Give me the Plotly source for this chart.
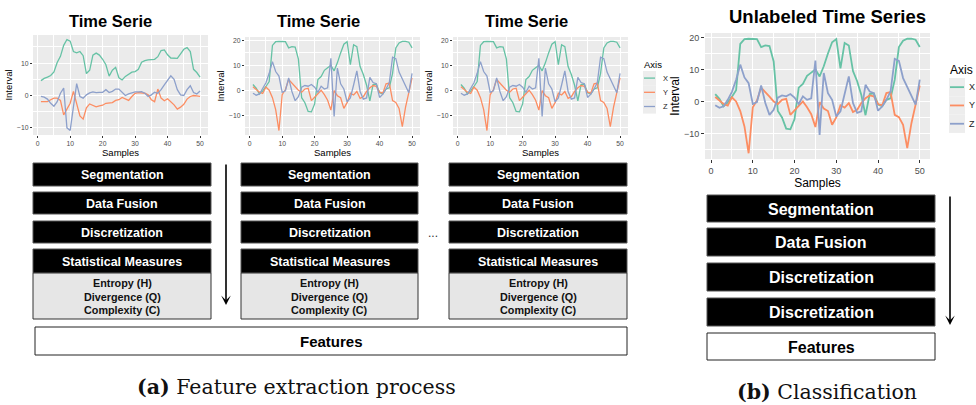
import plotly.graph_objects as go

# ---------------------------------------------------------------- data
samples = list(range(1, 51))

# training time series (first panel)
train_x = [4.6, 5.3, 5.7, 6.2, 7.3, 10.2, 12.1, 15.5, 17.3, 16.8,
           13.6, 13.2, 13.6, 12.3, 6.8, 7.8, 12.5, 13.1, 12.5, 11.2,
           9.5, 6.0, 7.8, 8.7, 5.5, 4.8, 5.9, 6.6, 7.2, 7.4,
           8.1, 10.3, 10.8, 11.0, 11.2, 11.2, 12.0, 13.9, 14.1, 12.6,
           11.6, 11.5, 11.5, 12.9, 14.3, 14.8, 13.6, 8.1, 7.1, 5.7]
train_y = [-1.9, -1.9, -1.9, -1.3, -0.8, -0.8, -1.5, -6.0, -4.0, -2.4,
           1.3, -2.4, -6.3, -7.3, -3.8, -2.6, -3.0, -3.5, -3.2, -3.0,
           -2.4, -2.2, -2.2, -1.5, -1.3, -0.6, -1.1, -1.5, -0.3, 0.7,
           0.9, 0.7, 0.7, 0.2, -1.3, -1.9, 2.0, -0.8, -1.6, -1.0,
           -1.9, -2.9, -4.2, -3.6, -2.7, -1.1, -0.3, 0.0, -0.1, -0.3]
train_z = [-0.3, -0.5, -1.1, -2.4, -3.3, -1.9, 0.7, 2.3, -10.0, -10.8,
           -3.5, 3.7, -0.3, -0.8, 0.2, 0.8, 1.1, 0.9, 1.0, 1.0,
           1.8, 0.9, 1.3, 2.0, 2.0, 1.0, 0.0, 0.5, 0.9, 1.1,
           1.1, 1.2, 0.7, -0.3, 0.2, 1.0, 0.7, 1.8, 3.3, 4.8,
           6.1, 5.0, 1.8, 0.2, 0.0, 1.8, 3.0, 0.9, 0.5, 1.4]

# second series (shown in the other three panels)
test_x = [2.3, 0.8, -1.5, -0.3, 1.5, 3.5, 18.0, 19.5, 19.6, 19.6,
          19.5, 17.0, 17.5, 17.3, 12.5, -3.0, -5.0, -8.5, -8.7, -5.5,
          4.3, 5.5, 8.0, 9.0, 10.0, 7.8, 11.0, 15.0, 18.5, 19.5,
          10.3, 18.3, 17.5, 9.5, 6.3, 2.0, -4.3, 2.3, 2.5, -1.0,
          -1.5, 0.5, 1.0, 6.8, 17.0, 19.0, 19.6, 19.6, 19.3, 17.0]
test_y = [1.4, 0.3, -0.8, -1.3, 1.3, 0.0, -3.0, -7.8, -16.2, -1.8,
          0.3, 4.3, 3.0, 1.5, 0.0, -0.8, 0.5, 0.8, -4.2, -2.8,
          -1.3, 0.0, -1.8, -4.0, -8.0, -0.2, -2.2, -3.0, -7.3, -5.0,
          -1.2, -1.9, -0.5, -3.3, -2.6, -0.5, 1.0, 1.9, 1.6, -0.8,
          -1.2, 2.6, 2.9, -4.2, -4.9, -7.3, -14.6, -6.8, -1.0, 5.0]
test_z = [-1.2, -2.0, -1.5, 0.5, 3.0, 6.8, 11.5, 7.5, 5.7, -0.8,
          -0.2, 5.0, -0.5, -4.2, -2.6, 1.2, 1.9, 1.6, 2.3, 1.2,
          -0.8, 1.6, 0.5, 1.0, 12.8, -10.5, 8.9, 2.6, 0.5, -4.7,
          -3.1, 2.1, 7.8, -0.5, -3.6, -3.1, 5.2, 3.1, 2.6, -2.9,
          -1.6, 0.5, 3.1, 13.3, 12.7, 7.3, 4.7, 2.1, -1.0, 6.8]

axis_names = ["X", "Y", "Z"]
axis_colors = ["#66C2A5", "#FC8D62", "#8DA0CB"]

x_ticks = [0, 10, 20, 30, 40, 50]
y_ticks = [-10, 0, 10, 20]

stages_a = ["Segmentation", "Data Fusion", "Discretization", "Statistical Measures"]
measures = ["Entropy (H)", "Divergence (Q)", "Complexity (C)"]
stages_b = ["Segmentation", "Data Fusion", "Discretization", "Discretization"]

# ---------------------------------------------------------------- layout helpers
W, H = 976, 405
SANS = "Liberation Sans, Arial, sans-serif"
SERIF = "DejaVu Serif, Liberation Serif, serif"


def px(x):
    return x / W


def py(y):
    return 1 - y / H


def expand(values, frac=0.05):
    lo, hi = min(values), max(values)
    pad = (hi - lo) * frac
    return [lo - pad, hi + pad]


fig = go.Figure()

# panels: (x-left, x-right, y-top, y-bottom) in pixels
panels = [
    dict(box=(33, 208, 35, 135), series=(train_x, train_y, train_z), lw=1.3, tick=6.8, lab=9.5, big=False),
    dict(box=(245, 420, 37, 135), series=(test_x, test_y, test_z), lw=1.3, tick=6.8, lab=9.5, big=False),
    dict(box=(453, 628, 37, 135), series=(test_x, test_y, test_z), lw=1.3, tick=6.8, lab=9.5, big=False),
    dict(box=(705, 930, 33, 159), series=(test_x, test_y, test_z), lw=1.8, tick=9, lab=12, big=True),
]

layout_axes = {}
for i, p in enumerate(panels, start=1):
    x0, x1, y0, y1 = p["box"]
    xs = "x" if i == 1 else f"x{i}"
    ys = "y" if i == 1 else f"y{i}"
    all_vals = [v for s in p["series"] for v in s]
    for name, vals, col in zip(axis_names, p["series"], axis_colors):
        fig.add_trace(go.Scatter(
            x=samples, y=vals, mode="lines", name=name,
            line=dict(color=col, width=p["lw"]),
            xaxis=xs, yaxis=ys, showlegend=False, hoverinfo="skip",
        ))
    common = dict(
        showgrid=True, gridcolor="white", gridwidth=1.1 if p["big"] else 0.9,
        zeroline=False, showline=False,
        ticks="outside", ticklen=3 if p["big"] else 2, tickwidth=1, tickcolor="#333333",
        tickfont=dict(family=SANS, size=p["tick"], color="#4D4D4D"),
        minor=dict(dtick=5, tick0=0, showgrid=True, gridcolor="white", gridwidth=0.5),
        fixedrange=True,
    )
    layout_axes["xaxis" if i == 1 else f"xaxis{i}"] = dict(
        common, domain=[px(x0), px(x1)], anchor=ys,
        range=expand(samples), tickvals=x_ticks,
        title=dict(text="Samples", font=dict(family=SANS, size=p["lab"], color="black"),
                   standoff=2),
    )
    layout_axes["yaxis" if i == 1 else f"yaxis{i}"] = dict(
        common, domain=[py(y1), py(y0)], anchor=xs,
        range=expand(all_vals), tickvals=y_ticks,
        title=dict(text="Interval", font=dict(family=SANS, size=p["lab"], color="black"),
                   standoff=1 if p["big"] else 2),
    )

fig.update_layout(**layout_axes)

shapes = []
annotations = []

# panel titles
for text, cx, cy, size in [("Time Serie", 110, 21, 16.5), ("Time Serie", 318, 21, 16.5),
                           ("Time Serie", 526, 21, 16.5), ("Unlabeled Time Series", 827, 17, 18.5)]:
    annotations.append(dict(x=px(cx), y=py(cy), xref="paper", yref="paper", text=f"<b>{text}</b>",
                            showarrow=False, xanchor="center", yanchor="middle",
                            font=dict(family=SANS, size=size, color="black")))

# legends (ggplot style) for the third and the fourth panel
for lx, ty, key_w, key_h, key_top, title_size, item_size, gap, lw in [
        (642, 64.5, 13, 14.2, 71, 9.5, 7.5, 6, 1.3),
        (948, 70, 16, 18.3, 78, 12, 9, 3, 1.8)]:
    annotations.append(dict(x=px(lx), y=py(ty), xref="paper", yref="paper", text="Axis",
                            showarrow=False, xanchor="left", yanchor="middle",
                            font=dict(family=SANS, size=title_size, color="black")))
    for k, (name, col) in enumerate(zip(axis_names, axis_colors)):
        top = key_top + k * key_h
        shapes.append(dict(type="rect", xref="paper", yref="paper",
                           x0=px(lx + 1), x1=px(lx + 1 + key_w), y0=py(top + key_h), y1=py(top),
                           fillcolor="#EDEDED", line=dict(width=0), layer="below"))
        mid = top + key_h / 2
        shapes.append(dict(type="line", xref="paper", yref="paper",
                           x0=px(lx + 2), x1=px(lx + key_w), y0=py(mid), y1=py(mid),
                           line=dict(color=col, width=lw)))
        annotations.append(dict(x=px(lx + key_w + gap), y=py(mid), xref="paper", yref="paper",
                                text=name, showarrow=False, xanchor="left", yanchor="middle",
                                font=dict(family=SANS, size=item_size, color="#222222")))


def box(x0, x1, y0, y1, fill, edge="#333333", width=1):
    shapes.append(dict(type="rect", xref="paper", yref="paper",
                       x0=px(x0), x1=px(x1), y0=py(y1), y1=py(y0),
                       fillcolor=fill, line=dict(color=edge, width=width)))


def label(text, cx, cy, size, color):
    annotations.append(dict(x=px(cx), y=py(cy), xref="paper", yref="paper",
                            text=f"<b>{text}</b>", showarrow=False,
                            xanchor="center", yanchor="middle",
                            font=dict(family=SANS, size=size, color=color)))


# (a) pipeline columns
rows_a = [(163, 186), (192, 214), (221, 243), (249, 273)]
measure_box = (273, 319)
measure_lines = [283, 297, 310]
for cx0, cx1 in [(33, 211), (241, 418), (449, 627)]:
    for stage, (r0, r1) in zip(stages_a, rows_a):
        box(cx0, cx1, r0, r1, "black", edge="#555555")
        label(stage, (cx0 + cx1) / 2, (r0 + r1) / 2 + 0.5, 12.5, "white")
    box(cx0, cx1, measure_box[0], measure_box[1], "#E6E6E6", edge="#333333")
    for m, ly in zip(measures, measure_lines):
        label(m, (cx0 + cx1) / 2, ly, 10.8, "#111111")

annotations.append(dict(x=px(433), y=py(233), xref="paper", yref="paper", text="...",
                        showarrow=False, xanchor="center", yanchor="middle",
                        font=dict(family=SANS, size=12, color="#333333")))

box(35, 627, 327, 355, "white", edge="#222222")
label("Features", 331, 341.5, 15, "black")

# (b) pipeline
rows_b = [(195, 222), (228, 256), (263, 291), (298, 326)]
for stage, (r0, r1) in zip(stages_b, rows_b):
    box(707, 935, r0, r1, "black", edge="#555555")
    label(stage, 821, (r0 + r1) / 2 + 0.5, 16, "white")
box(707, 935, 333, 360, "white", edge="#222222")
label("Features", 821, 347, 16, "black")

# flow arrows
for ax_x, top, head in [(226, 163, 305), (950, 195, 325)]:
    annotations.append(dict(x=px(ax_x), y=py(head), xref="paper", yref="paper",
                            ax=0, ay=-(head - top), axref="pixel", ayref="pixel",
                            text="", showarrow=True, arrowhead=3, arrowsize=1,
                            arrowwidth=1.6, arrowcolor="black", standoff=0, startstandoff=0))

# captions
annotations.append(dict(x=px(296), y=py(387), xref="paper", yref="paper",
                        text="<b>(a)</b> Feature extraction process", showarrow=False,
                        xanchor="center", yanchor="middle",
                        font=dict(family=SERIF, size=20.5, color="#111111")))
annotations.append(dict(x=px(827), y=py(392), xref="paper", yref="paper",
                        text="<b>(b)</b> Classification", showarrow=False,
                        xanchor="center", yanchor="middle",
                        font=dict(family=SERIF, size=20.5, color="#111111")))

fig.update_layout(
    width=W, height=H,
    margin=dict(l=0, r=0, t=0, b=0, autoexpand=False),
    paper_bgcolor="white", plot_bgcolor="#EBEBEB",
    showlegend=False,
    shapes=shapes, annotations=annotations,
)

fig.write_html("out.html")
